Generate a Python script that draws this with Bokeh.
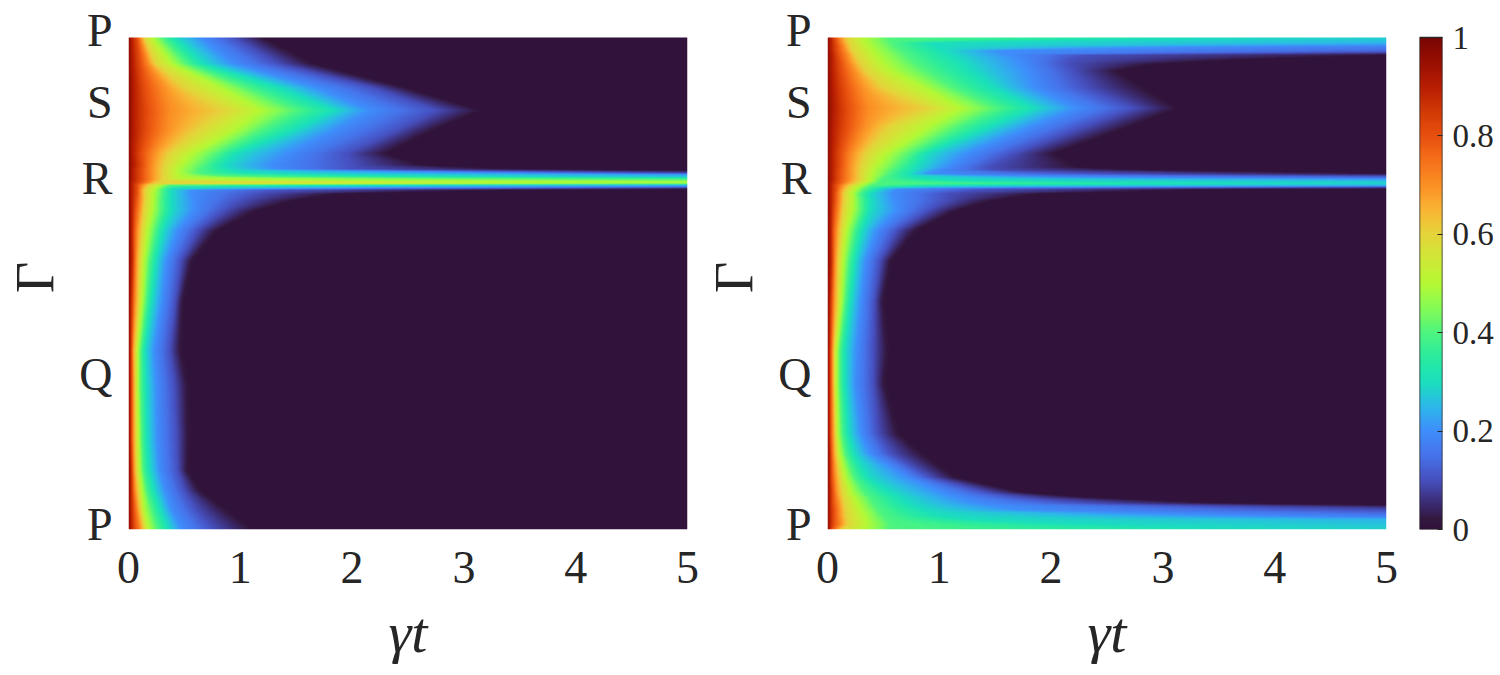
import numpy as np
from bokeh.embed import file_html
from bokeh.layouts import row
from bokeh.models import FixedTicker, LinearColorMapper
from bokeh.plotting import figure
from bokeh.resources import INLINE

# Colour scale
scale_values = [0.0, 0.02, 0.05, 0.1, 0.15, 0.2, 0.25, 0.3, 0.35, 0.4, 0.45, 0.5, 0.55, 0.6, 0.65, 0.7, 0.75, 0.8, 0.85, 0.9, 0.95, 1.0]
scale_colors = ["#30123b", "#33183f", "#3b2a70", "#4650c0", "#4673ea", "#3e8efb", "#2cb8e8", "#1ae0bc", "#2aeb9e", "#4ef57e",
                "#85fb55", "#b5f834", "#cfe836", "#e4d43a", "#f9b534", "#fb9025", "#f6701a", "#e8500f", "#d23a06", "#b81e02", "#991002", "#7a0403"]

bar_ticks = [0, 0.2, 0.4, 0.6, 0.8, 1]
bar_tick_labels = ["0", "0.2", "0.4", "0.6", "0.8", "1"]
x_ticks = [0, 1, 2, 3, 4, 5]
y_ticks = [0.01, 0.315, 0.714, 0.868, 1.014]
y_tick_labels = ["P", "Q", "R", "S", "P"]

# Population levels; each table row gives the gamma*t at which that row falls to the level
levels = [0.9, 0.8, 0.7, 0.6, 0.5, 0.4, 0.3, 0.2, 0.1, 0.02]

left_path = [1.000, 0.947, 0.898, 0.852, 0.811, 0.764, 0.740, 0.732, 0.724, 0.717, 0.711, 0.705, 0.701, 0.696, 0.691, 0.683, 0.669, 0.648, 0.608, 0.547, 0.465, 0.364, 0.293, 0.181, 0.120, 0.079, 0.039, 0.000]
left_cross = [
    [.03, .08, .11, .14, .21, .30, .42, .64, .94, 1.18],
    [.04, .11, .18, .24, .38, .52, .67, .94, 1.33, 1.63],
    [.05, .15, .32, .50, .82, 1.06, 1.36, 1.69, 2.19, 2.46],
    [.05, .18, .38, .85, 1.18, 1.51, 1.84, 2.16, 2.76, 3.13],
    [.05, .17, .35, .61, .94, 1.18, 1.48, 1.84, 2.40, 2.70],
    [.04, .12, .23, .36, .57, .79, .97, 1.42, 1.96, 2.28],
    [.05, .13, .21, .32, .47, .67, .85, 1.27, 2.0, 2.6],
    [.04, .12, .21, .31, .44, .64, .91, 1.33, 2.02, 3.5],
    [.04, .12, .21, .31, .44, .62, 1.06, 3.5, 5.0, 8.0],
    [.04, .12, .21, .31, .46, .91, 2.91, 9.0, 12.0, 14.0],
    [.04, .12, .21, .30, .48, 5.0, 11.0, 12.0, 13.0, 14.0],
    [.03, .11, .18, .26, 4.5, 14.0, 16.0, 17.0, 18.0, 19.0],
    [.03, .08, .13, .19, .29, .38, 2.91, 9.0, 12.0, 14.0],
    [.03, .08, .12, .17, .26, .33, .44, 3.0, 6.0, 10.0],
    [.03, .08, .11, .15, .23, .30, .38, .58, 1.42, 3.5],
    [.03, .08, .11, .15, .22, .30, .38, .56, 1.15, 1.84],
    [.03, .07, .11, .15, .22, .29, .38, .58, 1.0, 1.45],
    [.03, .06, .10, .14, .21, .29, .38, .58, .85, 1.12],
    [.03, .05, .08, .12, .17, .24, .31, .44, .62, .78],
    [.03, .05, .07, .10, .14, .19, .25, .34, .47, .56],
    [.02, .04, .06, .09, .12, .16, .21, .30, .42, .48],
    [.015, .03, .04, .06, .08, .11, .15, .23, .37, .46],
    [.015, .03, .045, .06, .08, .11, .16, .25, .41, .52],
    [.015, .03, .045, .065, .09, .12, .17, .26, .43, .53],
    [.02, .035, .05, .07, .10, .13, .19, .28, .44, .52],
    [.02, .04, .06, .09, .12, .16, .23, .33, .50, .63],
    [.02, .05, .08, .11, .14, .21, .29, .39, .61, .86],
    [.024, .06, .11, .14, .18, .26, .36, .48, .76, 1.09],
]

right_path = [1.000, 0.990, 0.982, 0.974, 0.965, 0.957, 0.947, 0.933, 0.898, 0.856, 0.821, 0.764, 0.736, 0.730, 0.722, 0.715, 0.708, 0.704, 0.700, 0.696, 0.692, 0.683, 0.669, 0.648, 0.608, 0.547, 0.465, 0.364, 0.297, 0.195, 0.154, 0.106, 0.075, 0.065, 0.053, 0.039, 0.026, 0.018, 0.010, 0.000]
right_cross = [
    [.03, .07, .12, .18, .32, .56, 3.5, 12.0, 13.0, 14.0],
    [.03, .08, .13, .19, .34, .58, .92, 9.0, 12.0, 14.0],
    [.03, .09, .15, .21, .37, .61, .98, 3.5, 10.0, 14.0],
    [.03, .09, .16, .22, .40, .65, 1.04, 1.52, 7.0, 10.0],
    [.04, .10, .18, .25, .43, .71, 1.10, 1.61, 2.32, 5.0],
    [.04, .11, .19, .27, .46, .74, 1.16, 1.70, 2.20, 3.8],
    [.04, .12, .21, .30, .50, .80, 1.22, 1.73, 2.14, 2.92],
    [.04, .13, .24, .34, .56, .89, 1.28, 1.79, 2.20, 2.56],
    [.05, .16, .31, .50, .86, 1.13, 1.49, 1.85, 2.32, 2.80],
    [.06, .19, .38, .89, 1.19, 1.52, 1.85, 2.23, 2.74, 3.11],
    [.05, .18, .34, .56, .92, 1.19, 1.49, 1.85, 2.32, 2.71],
    [.04, .12, .22, .34, .53, .74, .89, 1.25, 1.67, 2.0],
    [.04, .12, .20, .30, .43, .62, .80, 1.07, 1.43, 2.2],
    [.04, .11, .20, .30, .41, .58, .77, .98, 1.49, 2.9],
    [.04, .11, .20, .29, .40, .55, .74, .89, 2.6, 5.5],
    [.04, .11, .20, .29, .39, .50, .80, 2.6, 7.0, 11.0],
    [.04, .10, .19, .28, .38, .47, 1.28, 10.0, 12.0, 14.0],
    [.03, .10, .17, .25, .34, .44, 4.0, 14.0, 15.0, 16.0],
    [.03, .08, .14, .21, .30, .40, 1.13, 9.0, 12.0, 14.0],
    [.03, .08, .13, .19, .27, .36, .53, 1.43, 5.0, 9.0],
    [.03, .08, .12, .17, .25, .33, .45, .62, 1.43, 3.5],
    [.03, .07, .11, .15, .22, .29, .38, .58, 1.07, 1.87],
    [.03, .07, .11, .15, .23, .30, .39, .60, 1.05, 1.45],
    [.03, .06, .10, .14, .22, .30, .38, .62, .90, 1.13],
    [.03, .05, .08, .12, .17, .24, .31, .44, .62, .78],
    [.03, .05, .07, .10, .14, .19, .25, .34, .47, .56],
    [.02, .04, .06, .09, .12, .16, .21, .30, .42, .49],
    [.015, .03, .045, .06, .08, .11, .16, .26, .41, .53],
    [.015, .03, .045, .06, .08, .11, .16, .25, .41, .50],
    [.015, .03, .05, .07, .09, .13, .19, .30, .45, .62],
    [.02, .035, .055, .08, .11, .16, .24, .38, .57, .83],
    [.02, .04, .07, .11, .16, .24, .36, .71, .92, 1.13],
    [.02, .05, .08, .13, .21, .33, .56, 1.04, 1.43, 1.73],
    [.02, .05, .09, .14, .24, .38, .66, 1.16, 1.73, 2.32],
    [.02, .05, .10, .15, .27, .41, .71, 1.34, 2.32, 3.5],
    [.02, .06, .11, .16, .30, .46, .86, 1.79, 5.0, 9.0],
    [.02, .06, .11, .17, .33, .50, 1.04, 4.1, 8.0, 11.0],
    [.02, .06, .12, .18, .34, .54, 1.43, 9.0, 11.0, 14.0],
    [.02, .06, .12, .18, .35, .56, 2.32, 10.0, 12.0, 14.0],
    [.02, .04, .08, .13, .33, .56, 3.8, 12.0, 13.0, 14.0],
]

FONT = "Liberation Serif"
INK = "#262626"
FRAME_W, FRAME_H = 559, 492
HEAD = 12  # white strip above the map, so the upper P can sit above the map's top edge
TOP = 37 - HEAD


def hex_rgb(c):
    return [int(c[i:i + 2], 16) for i in (1, 3, 5)]


grid = np.linspace(0, 1, 256)
rgb = np.array([hex_rgb(c) for c in scale_colors], float)
palette = ["#%02x%02x%02x" % tuple(int(round(np.interp(g, scale_values, rgb[:, k]))) for k in range(3)) for g in grid]
mapper = LinearColorMapper(palette=palette, low=0, high=1)


def field(path, cross):
    """Paint the table on the pixel grid, running along each level's crossing curve."""
    path = np.array(path)[::-1]
    cross = np.array(cross)[::-1]
    gy = (np.arange(FRAME_H) + 0.5) / FRAME_H
    tx = (np.arange(FRAME_W) + 0.5) / FRAME_W * 5
    ys = np.array([0.97] + levels + [0.0])
    out = np.zeros((FRAME_H, FRAME_W))
    for i, g in enumerate(gy):
        c = [np.interp(g, path, cross[:, k]) for k in range(len(levels))]
        xs = np.array([0.0] + c + [c[-1] + 0.04])
        out[i] = np.interp(tx, xs, ys)
    return out


def panel(path, cross, right):
    p = figure(x_range=(0, 5), y_range=(0, 1 + HEAD / FRAME_H), toolbar_location=None,
               output_backend="svg", min_border_left=128, min_border_right=right, min_border_top=TOP,
               min_border_bottom=130, frame_width=FRAME_W, frame_height=FRAME_H + HEAD, tools="")
    p.image(image=[field(path, cross)], x=0, y=0, dw=5, dh=1, color_mapper=mapper)
    p.grid.visible = False
    p.outline_line_color = None
    p.xaxis.ticker = FixedTicker(ticks=x_ticks)
    p.yaxis.ticker = FixedTicker(ticks=y_ticks)
    p.yaxis.major_label_overrides = dict(zip(y_ticks, y_tick_labels))
    for ax in (p.xaxis[0], p.yaxis[0]):
        ax.axis_line_color = None
        ax.major_tick_line_color = None
        ax.minor_tick_line_color = None
        ax.major_label_text_font = FONT
        ax.major_label_text_font_size = "46px"
        ax.major_label_text_color = INK
        ax.axis_label_text_font = FONT
        ax.axis_label_text_color = INK
        ax.axis_label_text_font_style = "normal"
    p.xaxis.major_label_standoff = 16
    p.yaxis.major_label_standoff = 10
    p.xaxis.axis_label = "γt"
    p.xaxis.axis_label_text_font_style = "italic"
    p.xaxis.axis_label_text_font_size = "58px"
    p.xaxis.axis_label_standoff = 14
    p.yaxis.axis_label = "Γ"
    p.yaxis.axis_label_text_font_size = "54px"
    p.yaxis.axis_label_standoff = 11
    return p


left_fig = panel(left_path, left_cross, 12)
right_fig = panel(right_path, right_cross, 13)

bar = figure(x_range=(0, 1), y_range=(0, 1 + HEAD / FRAME_H), toolbar_location=None, output_backend="svg",
             min_border_left=20, min_border_right=55, min_border_top=TOP, min_border_bottom=130,
             frame_width=23, frame_height=FRAME_H + HEAD, tools="", y_axis_location="right")
bar.image(image=[grid.reshape(-1, 1)], x=0, y=0, dw=1, dh=1, color_mapper=mapper)
bar.quad(left=0, right=1, bottom=0, top=1, fill_color=None, line_color=INK, line_width=1.5)
bar.grid.visible = False
bar.xaxis.visible = False
bar.outline_line_color = None
bar.yaxis.ticker = FixedTicker(ticks=bar_ticks)
bar.yaxis.major_label_overrides = dict(zip(bar_ticks, bar_tick_labels))
bar.yaxis.axis_line_color = None
bar.yaxis.minor_tick_line_color = None
bar.yaxis.major_tick_in = 5
bar.yaxis.major_tick_out = 0
bar.yaxis.major_tick_line_color = INK
bar.yaxis.major_label_standoff = 10
bar.yaxis.major_label_text_font = FONT
bar.yaxis.major_label_text_font_size = "33px"
bar.yaxis.major_label_text_color = INK

layout = row(left_fig, right_fig, bar, spacing=0)
open("out.html", "w").write(file_html(layout, INLINE))
